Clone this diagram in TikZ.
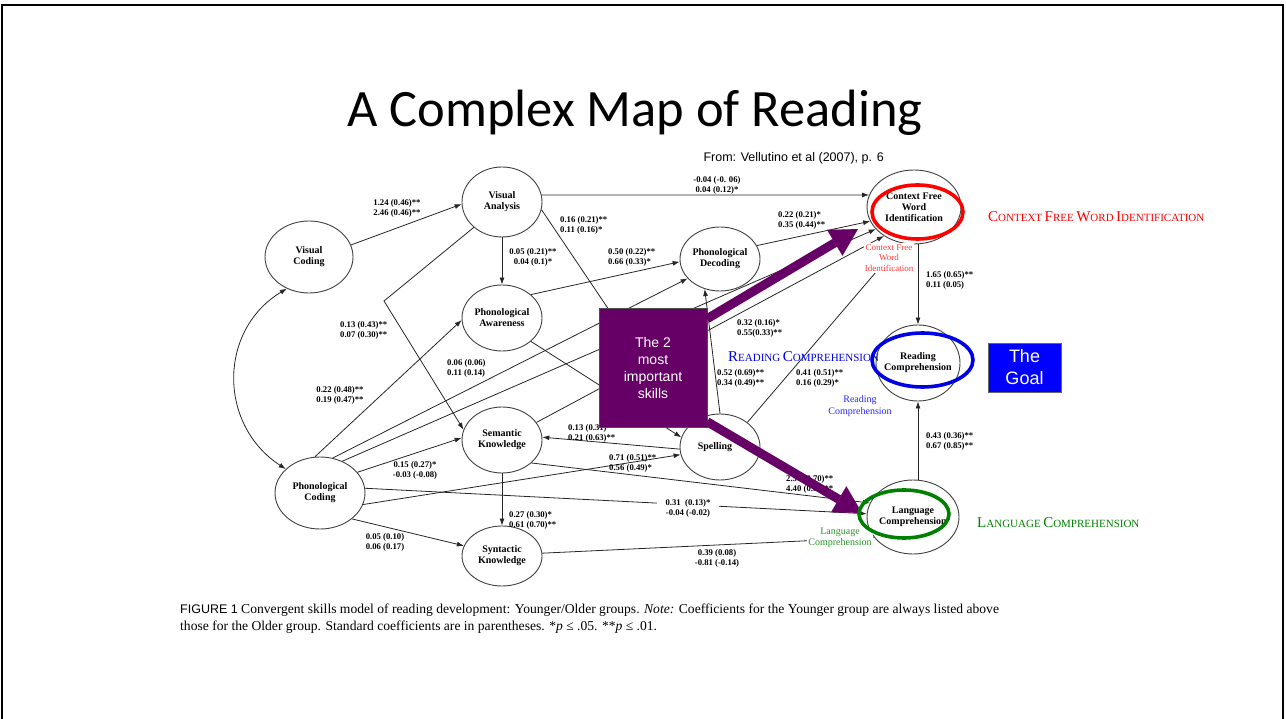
\documentclass[tikz,border=0pt]{standalone}
\usepackage{fontspec}
\setmainfont{Liberation Serif}
\newfontfamily\arialfont{Liberation Sans}
\newfontfamily\calfont{Carlito}
\usetikzlibrary{shapes.geometric,arrows.meta}
\definecolor{plum}{RGB}{102,0,102}
\definecolor{goalblue}{RGB}{0,0,255}
\definecolor{ringred}{RGB}{255,0,0}
\definecolor{ringblue}{RGB}{0,0,230}
\definecolor{ringgreen}{RGB}{0,128,0}
\definecolor{notered}{RGB}{255,60,60}
\definecolor{noteblue}{RGB}{40,40,255}
\definecolor{notegreen}{RGB}{40,150,40}
\newcommand\fsc[2]{{\fontsize{15}{15}\selectfont #1}{\fontsize{11}{11}\selectfont #2}}

\begin{document}
\begin{tikzpicture}[x=1pt, y=-1pt,
  skill/.style={ellipse, draw=black!75, line width=0.9pt, inner xsep=-8pt, inner ysep=0pt,
    align=center, font=\fontsize{10}{11}\selectfont\bfseries},
  coef/.style={font=\fontsize{8.7}{10}\selectfont\bfseries, inner sep=0pt, align=center},
  link/.style={draw=black!85, line width=0.8pt, -{Latex[length=7pt,width=5pt]}},
  bigarrow/.style={draw=plum, line width=9pt, -{Triangle[length=27pt,width=30pt,line width=0.1pt]}},
  ring/.style={line width=3.6pt},
  note/.style={fill=white, inner sep=1pt, align=center, font=\fontsize{9}{10.5}\selectfont}]

  \useasboundingbox (0,0) rectangle (1286,719);
  \draw[line width=1.5pt] (2,719) -- (2,5) -- (1283,5) -- (1283,719);

  %% title
  \node[font=\calfont\fontsize{52.5}{60}\selectfont] (title) at (635,113) {A Complex Map of Reading};
  \node[font=\arialfont\fontsize{12.5}{14}\selectfont, anchor=west] (src) at (700,158)
  {From: Vellutino et al (2007), p. 6};

  %% skills
  \node[skill, minimum width=88pt, minimum height=72pt] (vcod) at (309,257) {Visual\\Coding};
  \node[skill, minimum width=80pt, minimum height=70pt] (vana) at (502,202) {Visual\\Analysis};
  \node[skill, minimum width=80pt, minimum height=66pt] (paw) at (502,318) {Phonological\\Awareness};
  \node[skill, minimum width=80pt, minimum height=66pt] (sem) at (502,440) {Semantic\\Knowledge};
  \node[skill, minimum width=80pt, minimum height=60pt] (syn) at (502,556) {Syntactic\\Knowledge};
  \node[skill, minimum width=90pt, minimum height=72pt] (pcod) at (320,493) {Phonological\\Coding};
  \node[skill, minimum width=80pt, minimum height=64pt] (pdec) at (720,259) {Phonological\\Decoding};
  \node[skill, minimum width=80pt, minimum height=66pt] (spel) at (720,447) {\hspace*{-10pt}Spelling};
  \node[skill, minimum width=94pt, minimum height=74pt] (cfwi) at (914,207) {Context Free\\Word\\Identification};
  \node[skill, minimum width=84pt, minimum height=76pt] (rcomp) at (918,363) {Reading\\Comprehension};
  \node[skill, minimum width=92pt, minimum height=74pt] (lcomp) at (913,517) {Language\\Comprehension};
  \coordinate (vakink) at (384,301);

  %% paths
  \draw[link] (vcod.16) -- (vana.183);
  \draw[link] (vana.10) -- (cfwi.165);
  \draw[link] (vana) -- (paw);
  \draw[link] (vana.349) -- (spel.148);
  \draw[link] (vana.222) -- (vakink) -- (sem.165);
  \draw[link, {Latex[length=7pt,width=5pt]}-{Latex[length=7pt,width=5pt]}]
  (vcod.235) .. controls (218,330) and (218,425) .. (pcod.145);
  \draw[link] (pcod.98) -- (paw.183);
  \draw[link] (pcod.70) -- (pdec.211);
  \draw[link] (pcod.55) -- (cfwi.210);
  \draw[link] (pcod.29) -- (sem.177);
  \draw[link] (pcod.345) -- (spel.191);
  \draw[link] (pcod.6) -- (lcomp.176);
  \draw[link] (pcod.321) -- (syn.165);
  \draw[link] (paw.39) -- (pdec.184);
  \draw[link] (paw.321) -- (spel.166);
  \draw[link] (sem.27) -- (cfwi.224);
  \draw[link] (sem.322) -- (lcomp.162);
  \draw[link] (sem) -- (syn);
  \draw[link] (syn.4) -- (lcomp.208);
  \draw[link] (spel.90) -- (pdec.243);
  \draw[link] (spel.42) -- (cfwi.250);
  \draw[link] (spel.183) -- (sem.4);
  \draw[link] (pdec.20) -- (cfwi.198);
  \draw[link] (rcomp.north |- cfwi.south) -- (rcomp.north);
  \draw[link] (rcomp.south |- lcomp.north) -- (rcomp.south);

  %% coefficients
  \node[coef] (k1) at (397,208) {1.24 (0.46)**\\2.46 (0.46)**};
  \node[coef] (k2) at (717,185) {-0.04 (-0. 06)\\0.04 (0.12)*};
  \node[coef] (k3) at (533,257) {0.05 (0.21)**\\0.04 (0.1)*};
  \node[coef, anchor=west, align=left] (k4) at (560,225) {0.16 (0.21)**\\0.11 (0.16)*};
  \node[coef, anchor=west, align=left] (k5) at (608,257) {0.50 (0.22)**\\0.66 (0.33)*};
  \node[coef, anchor=west, align=left] (k6) at (778,220) {0.22 (0.21)*\\0.35 (0.44)**};
  \node[coef, anchor=west, align=left] (k7) at (340,330) {0.13 (0.43)**\\0.07 (0.30)**};
  \node[coef] (k8) at (340,395) {0.22 (0.48)**\\0.19 (0.47)**};
  \node[coef, anchor=west, align=left] (k9) at (447,368) {0.06 (0.06)\\0.11 (0.14)};
  \node[coef, anchor=west, align=left] (k10) at (737,328) {0.32 (0.16)*\\0.55(0.33)**};
  \node[coef, anchor=west, align=left] (k11) at (717,378) {0.52 (0.69)**\\0.34 (0.49)**};
  \node[coef, anchor=west, align=left] (k12) at (796,378) {0.41 (0.51)**\\0.16 (0.29)*};
  \node[coef, anchor=west, align=left] (k13) at (568,433) {0.13 (0.31)*\\0.21 (0.63)**};
  \node[coef, anchor=west, align=left] (k14) at (609,463) {0.71 (0.51)**\\0.56 (0.49)*};
  \node[coef] (k15) at (415,470) {0.15 (0.27)*\\-0.03 (-0.08)};
  \node[coef, anchor=west, align=left] (k16) at (786,484) {2.50 (0.70)**\\4.40 (0.80)**};
  \node[coef, fill=white, inner xsep=9pt, inner ysep=1pt] (k17) at (688,508) {0.31 \ (0.13)*\\-0.04 (-0.02)};
  \node[coef, anchor=west, align=left] (k18) at (509,520) {0.27 (0.30)*\\0.61 (0.70)**};
  \node[coef] (k19) at (385,542) {0.05 (0.10)\\0.06 (0.17)};
  \node[coef] (k20) at (717,558) {0.39 (0.08)\\-0.81 (-0.14)};
  \node[coef, anchor=west, align=left] (k21) at (926,280) {1.65 (0.65)**\\0.11 (0.05)};
  \node[coef, anchor=west, align=left] (k22) at (926,441) {0.43 (0.36)**\\0.67 (0.85)**};

  %% notes
  \node[note, text=notered] (nred) at (889,258) {Context Free\\Word\\Identification};
  \node[note, text=noteblue, font=\fontsize{10}{12}\selectfont] (nblue) at (860,406) {Reading\\Comprehension};
  \node[note, text=notegreen, font=\fontsize{10}{11}\selectfont] (ngreen) at (840,538) {Language\\Comprehension};

  %% the 2 most important skills
  \node[draw=black!70, fill=plum, minimum width=108pt, minimum height=119pt, text=white,
  align=center, font=\arialfont\fontsize{14}{17}\selectfont] (twobox) at (653,367.5)
  {The 2\\most\\important\\skills};
  \coordinate (tipa) at (858,229);
  \coordinate (tipb) at (862,513);
  \draw[bigarrow] (twobox.42) -- (tipa);
  \draw[bigarrow] (twobox.-45) -- (tipb);

  %% rings
  \draw[ring, ringred] (917.5,212) ellipse [x radius=45.5, y radius=27];
  \draw[ring, ringblue] (922.5,360) ellipse [x radius=50.5, y radius=27];
  \draw[ring, ringgreen] (904,514) ellipse [x radius=45, y radius=24];

  %% labels
  \node[text=ringred, anchor=west, inner sep=0pt] (redcap) at (988,217)
  {\fsc{C}{ONTEXT} \fsc{F}{REE} \fsc{W}{ORD} \fsc{I}{DENTIFICATION}};
  \node[text=ringblue, anchor=west, inner sep=0pt] (bluecap) at (728,357)
  {\fsc{R}{EADING} \fsc{C}{OMPREHENSION}};
  \node[text=ringgreen, anchor=west, inner sep=0pt] (greencap) at (977,523)
  {\fsc{L}{ANGUAGE} \fsc{C}{OMPREHENSION}};
  \node[draw=black!60, fill=goalblue, minimum width=73pt, minimum height=49pt, text=white,
  align=center, font=\arialfont\fontsize{18}{22}\selectfont] (goal) at (1024.5,367.5) {The\\Goal};

  %% caption
  \node[anchor=west, inner sep=0pt, font=\fontsize{13.6}{16}\selectfont] (cap1) at (180,610)
  {{\arialfont\fontsize{12.5}{16}\selectfont FIGURE 1} Convergent skills model of reading development: Younger/Older groups.
   \textit{Note:} Coefficients for the Younger group are always listed above};
  \node[anchor=west, inner sep=0pt, font=\fontsize{13.6}{16}\selectfont] (cap2) at (180,627)
  {those for the Older group. Standard coefficients are in parentheses. *\textit{p} ≤ .05. **\textit{p} ≤ .01.};

\end{tikzpicture}
\end{document}
